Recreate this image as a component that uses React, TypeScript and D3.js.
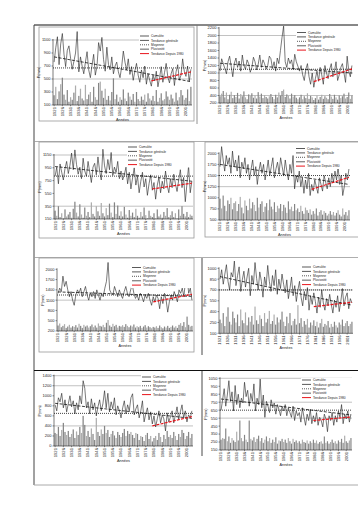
import React from 'react';
import * as d3 from 'd3';

const years: number[] = d3.range(1921, 2005);
const yearLabels: number[] = [1921, 1926, 1931, 1936, 1941, 1946, 1951, 1956, 1961, 1966, 1971, 1976, 1981, 1986, 1991, 1996, 2001];
const recentStart = 1980;
const legendLabels = ['Cumulée', 'Tendance générale', 'Moyenne', 'Pluviosité', 'Tendance Depuis 1980'];

// Panel 1
const p1Line = [760, 980, 1150, 720, 1040, 1200, 880, 690, 940, 1010, 820, 650, 770, 900, 1230, 610, 840, 700, 580, 760, 920, 640, 520, 710, 880, 560, 690, 1060, 930, 1140, 800, 620, 990, 720, 640, 840, 580, 700, 760, 610, 520, 690, 930, 760, 640, 810, 570, 690, 480, 620, 740, 560, 450, 640, 520, 700, 420, 580, 480, 390, 560, 470, 620, 380, 520, 690, 450, 600, 740, 530, 440, 580, 660, 400, 610, 720, 480, 560, 810, 620, 540, 700, 460, 650];
const p1Bars = [250, 380, 190, 310, 420, 520, 260, 180, 330, 150, 220, 180, 290, 400, 160, 240, 350, 200, 170, 410, 190, 260, 300, 150, 380, 220, 180, 440, 460, 320, 210, 350, 180, 240, 170, 300, 510, 190, 260, 150, 220, 180, 340, 200, 160, 290, 230, 180, 270, 150, 300, 190, 160, 230, 180, 260, 150, 280, 200, 170, 240, 160, 330, 150, 210, 280, 170, 190, 310, 230, 180, 260, 200, 150, 290, 170, 220, 330, 250, 180, 210, 340, 160, 380];
const p1Ticks = [100, 300, 500, 700, 900, 1100];
const p1Grid = [1100, 500];
const p1Mean = 670;
const p1Trend = [840, 460];
const p1Recent = [470, 610];

// Panel 2
const p2Line = [1050, 1380, 1250, 1120, 980, 1300, 1450, 1180, 900, 1260, 1400, 1150, 1320, 1050, 1480, 1200, 1100, 1350, 1250, 1020, 1150, 1420, 1300, 1080, 1230, 1480, 1150, 1350, 1250, 1100, 1200, 1450, 1380, 1120, 1300, 1050, 1400, 1250, 1600, 1950, 2250, 1300, 1150, 1400, 1250, 1350, 1100, 1500, 1300, 1180, 1050, 1200, 950, 800, 1100, 1250, 900, 700, 1000, 620, 850, 1050, 780, 1150, 950, 700, 1200, 1000, 850, 1100, 1250, 900, 1050, 1300, 800, 950, 1150, 1250, 1000, 750, 1450, 1050, 900, 1200];
const p2Bars = [380, 450, 520, 350, 480, 300, 420, 500, 330, 410, 360, 470, 320, 440, 380, 510, 350, 300, 430, 390, 460, 340, 400, 320, 490, 370, 450, 330, 410, 360, 320, 380, 440, 360, 300, 420, 350, 480, 400, 520, 560, 360, 430, 390, 320, 450, 370, 410, 340, 300, 350, 420, 300, 380, 330, 460, 310, 390, 350, 280, 330, 400, 290, 360, 420, 310, 380, 340, 300, 440, 370, 310, 420, 350, 290, 400, 330, 380, 450, 320, 360, 480, 310, 400];
const p2Ticks = [200, 400, 600, 800, 1000, 1200, 1400, 1600, 1800, 2000, 2200];
const p2Grid = [2000, 1000, 400];
const p2Mean = 1100;
const p2Trend = [1260, 1000];
const p2Recent = [770, 1110];

// Panel 3
const p3Line = [820, 960, 700, 1010, 880, 760, 940, 1050, 860, 990, 1180, 920, 1230, 1000, 850, 960, 780, 1100, 900, 820, 1050, 880, 720, 960, 1020, 840, 1120, 900, 760, 1240, 980, 860, 1080, 920, 1190, 830, 960, 880, 1050, 780, 900, 760, 840, 960, 700, 880, 620, 790, 950, 680, 820, 560, 740, 880, 650, 780, 520, 700, 840, 600, 720, 460, 680, 800, 560, 740, 620, 900, 680, 560, 780, 640, 850, 700, 580, 760, 920, 640, 800, 420, 700, 980, 560, 740];
const p3Bars = [280, 200, 350, 180, 240, 160, 300, 190, 220, 260, 170, 310, 420, 250, 190, 380, 220, 170, 330, 200, 260, 180, 410, 230, 190, 350, 270, 200, 400, 240, 190, 320, 210, 390, 250, 180, 410, 230, 360, 200, 270, 190, 340, 220, 170, 290, 200, 250, 180, 310, 200, 170, 260, 190, 330, 210, 160, 280, 200, 180, 240, 160, 300, 190, 220, 170, 260, 200, 320, 180, 210, 270, 180, 240, 160, 300, 200, 350, 230, 190, 260, 180, 220, 200];
const p3Ticks = [150, 350, 550, 750, 950, 1150];
const p3Grid = [1150, 350];
const p3Mean = 820;
const p3Trend = [970, 740];
const p3Recent = [620, 710];

// Panel 4
const p4Line = [1700, 2150, 1850, 1600, 1950, 1750, 1900, 1550, 2050, 1700, 1850, 1600, 1950, 1450, 1800, 1650, 1900, 1550, 1750, 1400, 1650, 1850, 1500, 1700, 1300, 1600, 1800, 1550, 1750, 1400, 1600, 1850, 1500, 1700, 1900, 1450, 1650, 1800, 1550, 1900, 1700, 1500, 1850, 1600, 1400, 1750, 1550, 1950, 1200, 1500, 1350, 1600, 1250, 1450, 1100, 1400, 1200, 1550, 1050, 1300, 1150, 1400, 1250, 1100, 1450, 1300, 1150, 1500, 1350, 1200, 1450, 1250, 1550, 1350, 1600, 1400, 1700, 1300, 1500, 1050, 1250, 1550, 1400, 1650];
const p4Bars = [980, 760, 1050, 820, 700, 940, 860, 1000, 740, 880, 920, 700, 860, 1020, 780, 650, 940, 820, 720, 980, 760, 900, 840, 700, 1000, 780, 860, 920, 680, 800, 880, 720, 960, 800, 740, 900, 680, 820, 760, 860, 700, 840, 780, 660, 920, 740, 800, 700, 860, 720, 760, 680, 820, 700, 640, 780, 720, 660, 740, 620, 700, 640, 760, 600, 680, 720, 620, 700, 660, 600, 640, 700, 620, 680, 600, 660, 720, 620, 580, 760, 620, 680, 600, 720];
const p4Ticks = [500, 750, 1000, 1250, 1500, 1750, 2000];
const p4Grid = [1250];
const p4Mean = 1500;
const p4Trend = [1750, 1300];
const p4Recent = [1190, 1460];

// Panel 5
const p5Line = [1300, 1450, 1350, 1800, 1500, 1650, 1400, 1200, 1350, 1100, 950, 1250, 1400, 1300, 1450, 1200, 1350, 1500, 1250, 1100, 1300, 1200, 1350, 1150, 1400, 1250, 1100, 1300, 1200, 1450, 1650, 2200, 1400, 1300, 1250, 1500, 1350, 1200, 1400, 1250, 1150, 1350, 1500, 1300, 1200, 1400, 1550, 1300, 1150, 1250, 1100, 1300, 1200, 1050, 1250, 1150, 1300, 1100, 950, 1200, 1050, 1250, 1150, 850, 1200, 1000, 1300, 1100, 750, 1050, 1250, 1100, 1350, 1200, 1050, 1400, 1300, 1450, 1200, 1650, 1800, 1300, 1450, 1100];
const p5Bars = [360, 420, 310, 350, 400, 290, 330, 380, 300, 340, 320, 370, 300, 410, 350, 290, 380, 330, 360, 300, 340, 390, 310, 360, 300, 420, 350, 330, 380, 310, 440, 520, 360, 320, 410, 340, 380, 300, 350, 330, 370, 320, 400, 350, 310, 360, 330, 390, 300, 340, 310, 350, 290, 330, 370, 300, 340, 310, 280, 320, 300, 340, 290, 360, 310, 280, 330, 300, 350, 290, 320, 360, 300, 340, 290, 380, 430, 350, 460, 310, 620, 380, 330, 350];
const p5Ticks = [200, 500, 800, 1100, 1400, 1700, 2000];
const p5Grid = [1100];
const p5Mean = 1250;
const p5Trend = [1340, 1210];
const p5Recent = [1050, 1270];

// Panel 6
const p6Line = [850, 980, 780, 920, 1050, 820, 700, 940, 880, 1100, 760, 900, 1020, 680, 840, 960, 740, 880, 1000, 620, 900, 780, 1080, 860, 700, 950, 820, 600, 880, 760, 1040, 820, 680, 900, 760, 980, 640, 850, 720, 920, 780, 660, 840, 580, 720, 880, 620, 760, 540, 700, 820, 600, 480, 680, 560, 740, 420, 620, 500, 660, 540, 380, 600, 460, 700, 520, 420, 580, 480, 640, 500, 380, 560, 460, 620, 400, 540, 720, 480, 600, 660, 440, 580, 520];
const p6Bars = [290, 240, 380, 200, 330, 460, 260, 220, 400, 310, 250, 360, 200, 430, 280, 240, 390, 210, 320, 260, 340, 220, 470, 280, 230, 350, 300, 200, 380, 250, 300, 410, 230, 270, 360, 220, 320, 250, 290, 400, 260, 200, 330, 240, 380, 210, 270, 300, 220, 490, 240, 310, 190, 270, 220, 300, 180, 250, 210, 280, 200, 260, 180, 240, 300, 190, 230, 210, 270, 180, 230, 190, 260, 210, 180, 250, 220, 290, 200, 240, 270, 200, 230, 260];
const p6Ticks = [100, 250, 400, 550, 700, 850, 1000];
const p6Grid = [700];
const p6Mean = 700;
const p6Trend = [885, 490];
const p6Recent = [470, 530];

// Panel 7
const p7Line = [820, 700, 960, 880, 1050, 760, 920, 680, 840, 1000, 780, 900, 640, 860, 720, 1000, 840, 1300, 1150, 760, 880, 640, 940, 720, 860, 600, 780, 920, 700, 840, 1100, 760, 1050, 680, 880, 740, 960, 620, 800, 700, 560, 760, 900, 640, 820, 700, 960, 1040, 620, 740, 820, 560, 700, 900, 480, 640, 760, 520, 680, 440, 600, 380, 540, 700, 460, 620, 540, 300, 660, 480, 580, 700, 460, 620, 780, 520, 680, 820, 560, 700, 480, 620, 560, 700];
const p7Bars = [260, 240, 380, 200, 320, 460, 280, 220, 300, 180, 240, 330, 160, 290, 220, 380, 260, 600, 420, 200, 300, 180, 350, 240, 120, 560, 280, 200, 330, 240, 400, 260, 320, 180, 240, 300, 210, 160, 280, 220, 180, 260, 340, 200, 300, 240, 280, 220, 160, 260, 240, 120, 200, 180, 100, 220, 260, 140, 200, 90, 160, 200, 120, 260, 180, 80, 220, 140, 300, 180, 220, 160, 280, 200, 120, 240, 180, 320, 260, 140, 200, 280, 160, 240];
const p7Ticks = [0, 200, 400, 600, 800, 1000, 1200, 1400];
const p7Grid = [1400, 1200, 400];
const p7Mean = 650;
const p7Trend = [850, 550];
const p7Recent = [400, 585];

// Panel 8
const p8Line = [650, 780, 920, 700, 840, 1020, 760, 880, 640, 960, 720, 850, 680, 800, 740, 1000, 820, 900, 700, 860, 760, 980, 640, 800, 720, 1040, 680, 840, 560, 760, 700, 620, 780, 680, 740, 600, 720, 660, 580, 700, 640, 720, 580, 680, 620, 560, 700, 520, 640, 580, 620, 500, 680, 560, 460, 600, 520, 660, 480, 580, 500, 620, 460, 560, 520, 440, 600, 540, 380, 580, 520, 620, 460, 580, 500, 640, 560, 720, 480, 600, 540, 640, 500, 600];
const p8Bars = [280, 300, 290, 420, 260, 320, 240, 300, 270, 250, 380, 270, 520, 300, 260, 340, 280, 250, 520, 290, 270, 310, 250, 290, 330, 260, 300, 240, 280, 320, 260, 300, 240, 280, 250, 310, 230, 270, 260, 290, 250, 280, 240, 300, 260, 230, 290, 250, 270, 240, 260, 230, 280, 250, 240, 270, 230, 260, 240, 280, 240, 270, 230, 250, 260, 230, 320, 240, 260, 230, 250, 280, 240, 260, 230, 270, 250, 290, 240, 330, 260, 240, 270, 300];
const p8Ticks = [150, 250, 350, 450, 550, 650, 750, 850, 950, 1050];
const p8Grid = [1050, 750, 550];
const p8Mean = 650;
const p8Trend = [790, 590];
const p8Recent = [520, 565];

const panelData = [
  { line: p1Line, bars: p1Bars, ticks: p1Ticks, grid: p1Grid, mean: p1Mean, trend: p1Trend, recent: p1Recent },
  { line: p2Line, bars: p2Bars, ticks: p2Ticks, grid: p2Grid, mean: p2Mean, trend: p2Trend, recent: p2Recent },
  { line: p3Line, bars: p3Bars, ticks: p3Ticks, grid: p3Grid, mean: p3Mean, trend: p3Trend, recent: p3Recent },
  { line: p4Line, bars: p4Bars, ticks: p4Ticks, grid: p4Grid, mean: p4Mean, trend: p4Trend, recent: p4Recent },
  { line: p5Line, bars: p5Bars, ticks: p5Ticks, grid: p5Grid, mean: p5Mean, trend: p5Trend, recent: p5Recent },
  { line: p6Line, bars: p6Bars, ticks: p6Ticks, grid: p6Grid, mean: p6Mean, trend: p6Trend, recent: p6Recent },
  { line: p7Line, bars: p7Bars, ticks: p7Ticks, grid: p7Grid, mean: p7Mean, trend: p7Trend, recent: p7Recent },
  { line: p8Line, bars: p8Bars, ticks: p8Ticks, grid: p8Grid, mean: p8Mean, trend: p8Trend, recent: p8Recent },
];

const layouts = [
  { x0: 53, x1: 192, yTop: 40, yBot: 105, box: [39, 27, 155, 94], legX: 140, legY: 36 },
  { x0: 219, x1: 353, yTop: 28, yBot: 103, box: null, legX: 297, legY: 32.5 },
  { x0: 54, x1: 193, yTop: 155, yBot: 219, box: [39, 142, 155, 96], legX: 128, legY: 147 },
  { x0: 219, x1: 350, yTop: 153.3, yBot: 220, box: [205, 142, 160, 95], legX: 296, legY: 148.5 },
  { x0: 57, x1: 193, yTop: 269.3, yBot: 331, box: [39, 258, 155, 94], legX: 132, legY: 267.5 },
  { x0: 219, x1: 353, yTop: 268.3, yBot: 333.3, box: null, legX: 302, legY: 267 },
  { x0: 54, x1: 193, yTop: 375.7, yBot: 446, box: null, legX: 142, legY: 377 },
  { x0: 220, x1: 352, yTop: 378.3, yBot: 450, box: null, legX: 302, legY: 380 },
];

const FONT = 'Liberation Sans, Arial, sans-serif';

function Panel({ d, l }: { d: any; l: any }) {
  const x = d3.scaleBand<number>().domain(years).range([l.x0, l.x1]).paddingInner(0.25).paddingOuter(0.3);
  const y = d3.scaleLinear().domain([d.ticks[0], d.ticks[d.ticks.length - 1]]).range([l.yBot, l.yTop]);
  const cx = (yr: number) => (x(yr) as number) + x.bandwidth() / 2;
  const lineGen = d3.line<number>().x((_, i) => cx(years[i])).y((v) => y(v));
  const trendGen = d3.line<[number, number]>().x((p) => cx(p[0])).y((p) => y(p[1]));
  const first = years[0];
  const last = years[years.length - 1];
  const trendPts: [number, number][] = [[first, d.trend[0]], [last, d.trend[1]]];
  const recentPts: [number, number][] = [[recentStart, d.recent[0]], [last, d.recent[1]]];
  const base = d.ticks[0];
  const legRows = 4.4;
  return (
    <g>
      {l.box && <rect x={l.box[0]} y={l.box[1]} width={l.box[2]} height={l.box[3]} fill="none" stroke="#9a9a9a" strokeWidth={0.8} />}
      {d.grid.map((g: number) => (
        <line key={'g' + g} x1={l.x0} x2={l.x1} y1={y(g)} y2={y(g)} stroke="#a8a8a8" strokeWidth={0.7} />
      ))}
      {d.bars.map((v: number, i: number) => (
        <rect key={'b' + i} x={x(years[i])} y={y(v)} width={x.bandwidth()} height={y(base) - y(v)} fill={i % 3 === 1 ? '#adadad' : '#858585'} />
      ))}
      <path d={lineGen(d.line) || ''} fill="none" stroke="#222" strokeWidth={0.6} />
      <line x1={l.x0} x2={l.x1} y1={y(d.mean)} y2={y(d.mean)} stroke="#111" strokeWidth={0.8} strokeDasharray="1,1" />
      <path d={trendGen(trendPts) || ''} fill="none" stroke="#111" strokeWidth={0.8} strokeDasharray="3,1.5" />
      <path d={trendGen(recentPts) || ''} fill="none" stroke="#e8141b" strokeWidth={1.2} strokeDasharray="3,1.2" />
      <line x1={l.x0} x2={l.x0} y1={l.yTop - 1} y2={l.yBot} stroke="#222" strokeWidth={0.6} />
      <line x1={l.x0} x2={l.x1} y1={l.yBot} y2={l.yBot} stroke="#222" strokeWidth={0.6} />
      {d.ticks.map((t: number) => (
        <g key={'t' + t}>
          <line x1={l.x0 - 1.5} x2={l.x0} y1={y(t)} y2={y(t)} stroke="#222" strokeWidth={0.5} />
          <text x={l.x0 - 2.5} y={y(t) + 1.4} fontSize={4} textAnchor="end" fontFamily={FONT} fill="#222">{t}</text>
        </g>
      ))}
      {yearLabels.map((yr) => (
        <g key={'x' + yr}>
          <line x1={cx(yr)} x2={cx(yr)} y1={l.yBot} y2={l.yBot + 1.2} stroke="#222" strokeWidth={0.5} />
          <text transform={`translate(${cx(yr) + 1.4},${l.yBot + 2})rotate(-90)`} fontSize={4.2} textAnchor="end" fontFamily={FONT} fill="#222">{yr}</text>
        </g>
      ))}
      <text x={(l.x0 + l.x1) / 2} y={l.yBot + 16} fontSize={3.8} textAnchor="middle" fontFamily={FONT} fill="#222">Années</text>
      <text transform={`translate(${l.x0 - 13},${(l.yTop + l.yBot) / 2})rotate(-90)`} fontSize={3.8} textAnchor="middle" fontFamily={FONT} fill="#222">P(mm)</text>
      <rect x={l.legX - 1} y={l.legY - 2} width={l.x1 - l.legX + 1} height={legRows * 5 + 0.5} fill="#fff" />
      {legendLabels.map((lab, i) => {
        const yy = l.legY + i * legRows;
        const stroke = i === 4 ? '#e8141b' : i === 3 ? '#8c8c8c' : '#111';
        const dash = i === 2 ? '1,1' : undefined;
        const sw = i === 3 ? 1.4 : i === 4 ? 1 : 0.7;
        return (
          <g key={'l' + i}>
            <line x1={l.legX} x2={l.legX + 9} y1={yy} y2={yy} stroke={stroke} strokeWidth={sw} strokeDasharray={dash} />
            <text x={l.legX + 11} y={yy + 1.1} fontSize={3.2} fontFamily={FONT} fill="#222">{lab}</text>
          </g>
        );
      })}
    </g>
  );
}

export default function App() {
  return (
    <svg width={358} height={512} style={{ position: 'absolute', left: 0, top: 0, background: '#fff' }}>
      <rect x={0} y={0} width={358} height={512} fill="#fff" />
      <line x1={34} x2={358} y1={25} y2={25} stroke="#111" strokeWidth={1} />
      <line x1={34} x2={34} y1={25} y2={485} stroke="#444" strokeWidth={1} />
      <line x1={34} x2={358} y1={485} y2={485} stroke="#aaa" strokeWidth={1} />
      <line x1={34} x2={358} y1={141.5} y2={141.5} stroke="#999" strokeWidth={0.8} />
      <line x1={34} x2={358} y1={257.5} y2={257.5} stroke="#999" strokeWidth={0.8} />
      <line x1={34} x2={358} y1={370.5} y2={370.5} stroke="#111" strokeWidth={1} />
      <line x1={197} x2={197} y1={25} y2={124} stroke="#777" strokeWidth={0.8} />
      <line x1={202} x2={202} y1={258} y2={355} stroke="#333" strokeWidth={0.9} />
      <line x1={202} x2={202} y1={371} y2={456} stroke="#333" strokeWidth={0.9} />
      {panelData.map((d, i) => (
        <Panel key={i} d={d} l={layouts[i]} />
      ))}
    </svg>
  );
}
